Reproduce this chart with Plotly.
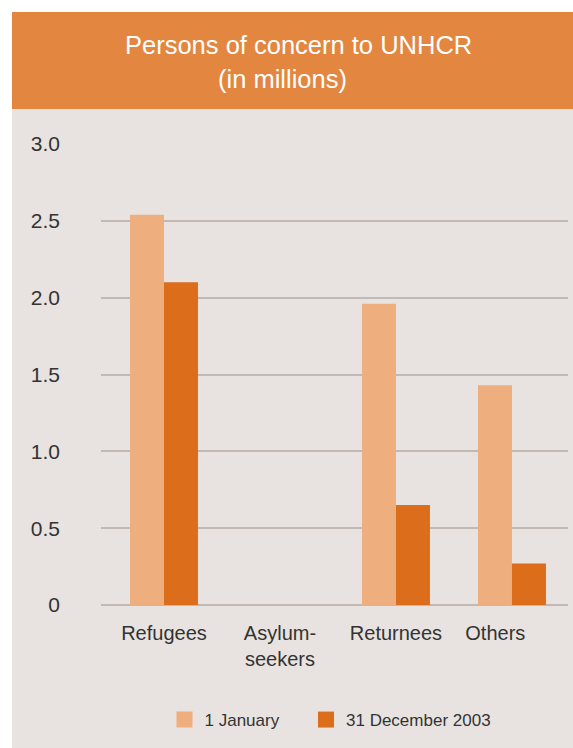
import plotly.graph_objects as go

categories = ["Refugees", "Asylum-<br>seekers", "Returnees", "Others\u00a0\u00a0\u00a0\u00a0\u00a0\u00a0"]
jan_values = [2.54, 0.0, 1.96, 1.43]
dec_values = [2.10, 0.0, 0.65, 0.27]
series_names = ["1 January", "31 December 2003"]
y_ticks = [0, 0.5, 1.0, 1.5, 2.0, 2.5, 3.0]
y_ticktext = ["0", "0.5", "1.0", "1.5", "2.0", "2.5", "3.0"]
title_lines = ["Persons of concern to UNHCR", "(in millions)"]

LIGHT = "#efae7e"
DARK = "#dc6d1b"
ORANGE = "#e3863f"
PANEL = "#e8e3e0"
GRID = "#c3b9b2"
TEXT = "#333333"
FONT = "Liberation Sans, Arial, sans-serif"

W, H = 573, 748
L, R, T, B = 101, 5, 144, 143
pw = W - L - R
ph = H - T - B

def px_x(p):
    return (p - L) / pw

def px_y(p):
    return (H - B - p) / ph

xpos = list(range(len(categories)))

fig = go.Figure()
fig.add_trace(go.Bar(x=xpos, y=jan_values, name=series_names[0],
                     marker=dict(color=LIGHT, line=dict(width=0)), showlegend=False))
fig.add_trace(go.Bar(x=xpos, y=dec_values, name=series_names[1],
                     marker=dict(color=DARK, line=dict(width=0)), showlegend=False))
# legend entries
for nm, col, lg in zip(series_names, [LIGHT, DARK], ["legend", "legend2"]):
    fig.add_trace(go.Scatter(x=[None], y=[None], mode="markers", name=nm, legend=lg,
                             marker=dict(symbol="square", size=17, color=col, line=dict(width=0))))

leg_common = dict(orientation="h", xanchor="left", yanchor="middle",
                  bgcolor="rgba(0,0,0,0)",
                  font=dict(family=FONT, size=17, color=TEXT))

title_pos = [(298, 45), (282, 79)]
annotations = [
    dict(text=t, xref="paper", yref="paper", x=px_x(cx), y=px_y(cy),
         xanchor="center", yanchor="middle", showarrow=False,
         font=dict(family=FONT, size=25.5, color="white"))
    for t, (cx, cy) in zip(title_lines, title_pos)
]

fig.update_layout(
    width=W, height=H,
    margin=dict(l=L, r=R, t=T, b=B, pad=0),
    paper_bgcolor="white",
    plot_bgcolor="rgba(0,0,0,0)",
    barmode="group", bargap=0.414, bargroupgap=0,
    font=dict(family=FONT, color=TEXT, size=20),
    annotations=annotations,
    shapes=[
        dict(type="rect", xref="paper", yref="paper", layer="below",
             x0=px_x(12), x1=px_x(W + 2), y0=px_y(H + 2), y1=px_y(109),
             fillcolor=PANEL, line=dict(width=0)),
        dict(type="rect", xref="paper", yref="paper", layer="below",
             x0=px_x(12), x1=px_x(W + 2), y0=px_y(109), y1=px_y(12),
             fillcolor=ORANGE, line=dict(width=0)),
    ],
    legend=dict(x=px_x(164.5), y=px_y(720), **leg_common),
    legend2=dict(x=px_x(306), y=px_y(720), **leg_common),
    showlegend=True,
)
fig.update_xaxes(range=[-0.543, 3.483], tickvals=xpos, ticktext=categories,
                 showgrid=False, zeroline=False, showline=False, ticks="",
                 tickfont=dict(size=20, color=TEXT), ticklabelstandoff=14)
fig.update_yaxes(range=[0, 3.0], tickvals=y_ticks, ticktext=y_ticktext,
                 showgrid=True, gridcolor=GRID, gridwidth=2,
                 zeroline=True, zerolinecolor=GRID, zerolinewidth=2,
                 showline=False, ticks="", tickfont=dict(size=21, color=TEXT),
                 ticklabelstandoff=40)

fig.write_html("out.html", config={"displayModeBar": False},
               post_script="document.body.style.margin='0';document.body.style.overflow='hidden';")
